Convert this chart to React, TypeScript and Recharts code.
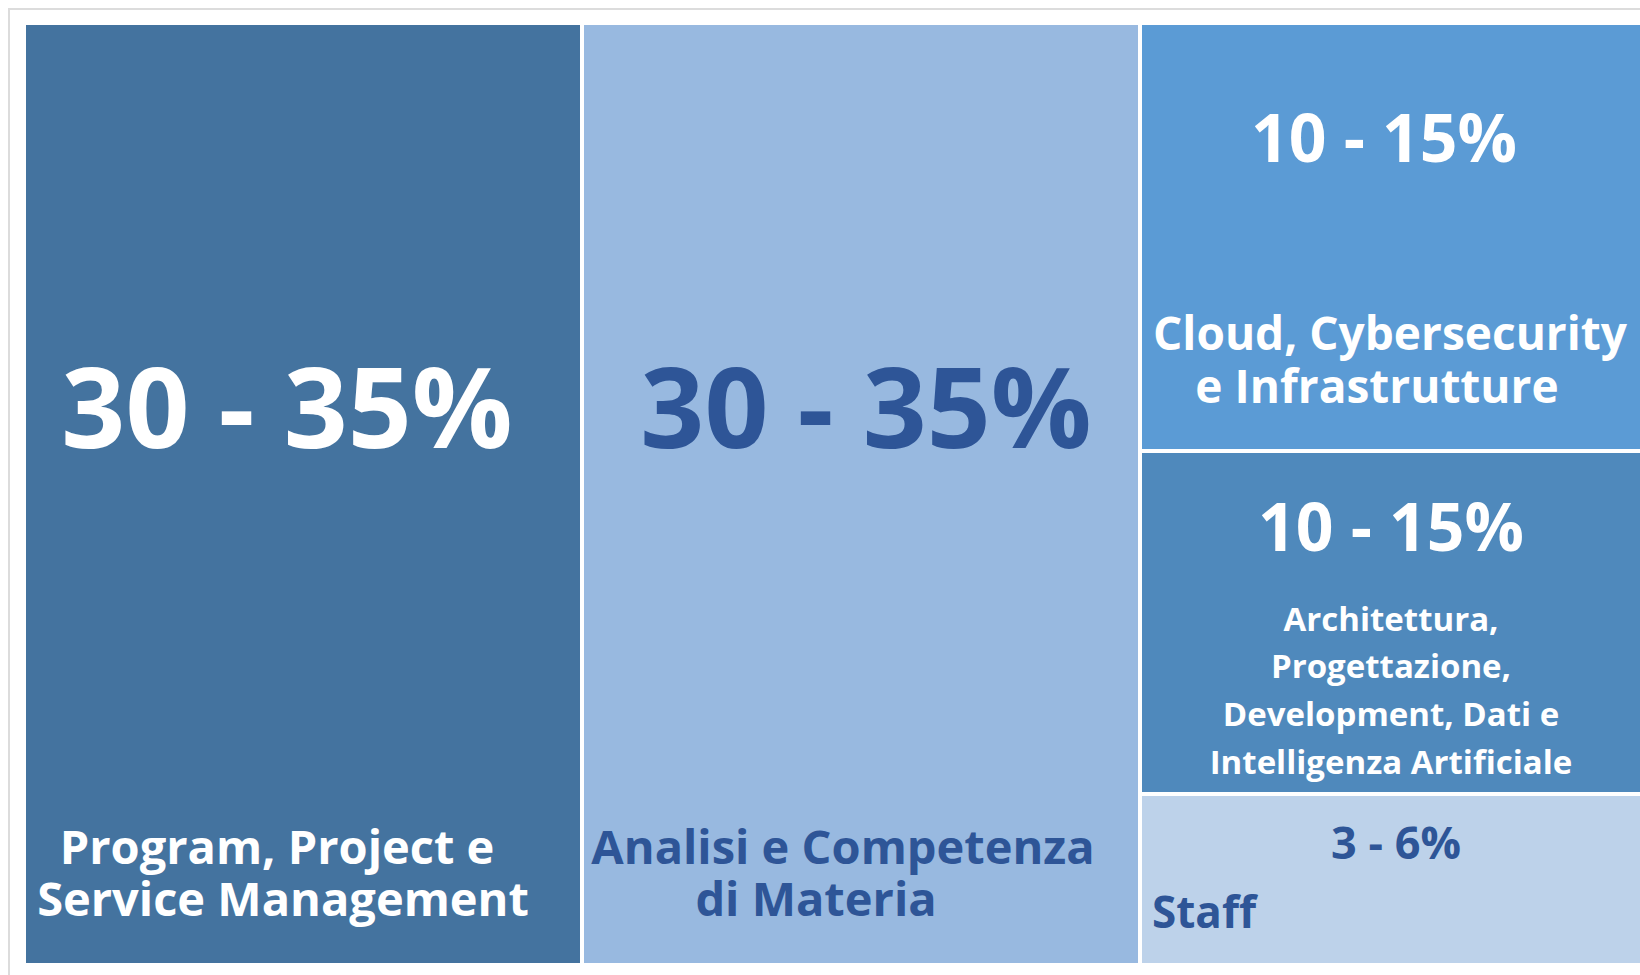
import React from 'react';
import { Treemap } from 'recharts';

// tile names, the ranges printed on them, and their measured share of the area
const categories = [
  'Program, Project e Service Management',
  'Analisi e Competenza di Materia',
  'Cloud, Cybersecurity e Infrastrutture',
  'Architettura, Progettazione, Development, Dati e Intelligenza Artificiale',
  'Staff',
];
const ranges = ['30 - 35%', '30 - 35%', '10 - 15%', '10 - 15%', '3 - 6%'];
const sizes = [34.5, 34.5, 14.1, 11.3, 5.6];
const groups = [0, 1, 2, 2, 2];
const labelLines = [
  ['Program, Project e', 'Service Management'],
  ['Analisi e Competenza', 'di Materia'],
  ['Cloud, Cybersecurity', 'e Infrastrutture'],
  ['Architettura,', 'Progettazione,', 'Development, Dati e', 'Intelligenza Artificiale'],
  ['Staff'],
];

const DARK = '#2E5597';

// per tile look: fill, text colour, where the range and the label go (relative to the tile)
const tileStyle = [
  { fill: '#44739F', color: '#fff', big: { dx: 263, dy: 425, size: 112 }, lines: { dx: [253, 259], dy: [841, 893], size: 47, anchor: 'middle' } },
  { fill: '#98B9E0', color: DARK, big: { dx: 284, dy: 425, size: 112 }, lines: { dx: [261, 234], dy: [841, 893], size: 47, anchor: 'middle' } },
  { fill: '#5B9BD5', color: '#fff', big: { dx: 244, dy: 139, size: 66 }, lines: { dx: [250, 237], dy: [327, 380], size: 46, anchor: 'middle' } },
  { fill: '#4F89BC', color: '#fff', big: { dx: 251, dy: 100, size: 66 }, lines: { dx: [251, 251, 251, 251], dy: [180, 227, 275, 323], size: 33, anchor: 'middle' } },
  { fill: '#BDD2EA', color: DARK, big: { dx: 256, dy: 65, size: 45 }, lines: { dx: [12], dy: [134], size: 44, anchor: 'start' } },
];

const leaf = (i: number) => ({ name: categories[i], size: sizes[i], idx: i });

const data: any[] = [];
groups.forEach((g, i) => {
  if (g < 2) {
    data.push(leaf(i));
  } else {
    let grp = data.find((d) => d.group === g);
    if (!grp) {
      grp = { name: 'Tecnologie', group: g, children: [] };
      data.push(grp);
    }
    grp.children.push(leaf(i));
  }
});

const Tile = (props: any) => {
  const { x, y, width, height, idx, children } = props;
  if ((children && children.length) || idx === undefined) return <g />;
  const st = tileStyle[idx];
  return (
    <g>
      <rect x={x} y={y} width={width} height={height} fill={st.fill} stroke="#fff" strokeWidth={4} />
      <text
        x={x + st.big.dx}
        y={y + st.big.dy}
        textAnchor="middle"
        fill={st.color}
        fontSize={st.big.size}
        fontWeight={700}
        fontFamily="'Open Sans', sans-serif"
      >
        {ranges[idx]}
      </text>
      <text
        textAnchor={st.lines.anchor}
        fill={st.color}
        fontSize={st.lines.size}
        fontWeight={700}
        fontFamily="'Open Sans', sans-serif"
      >
        {labelLines[idx].map((line, j) => (
          <tspan key={j} x={x + st.lines.dx[j]} y={y + st.lines.dy[j]}>
            {line}
          </tspan>
        ))}
      </text>
    </g>
  );
};

export default function App() {
  // fixed to the viewport so the body margin and scrollbars do not move or clip the tiles
  return (
    <div
      style={{
        position: 'fixed',
        left: 0,
        top: 0,
        width: 1640,
        height: 975,
        overflow: 'hidden',
        background: '#fff',
      }}
    >
      <div
        style={{
          position: 'absolute',
          left: 8,
          top: 8,
          width: 1640,
          height: 975,
          borderTop: '2px solid #dcdcdc',
          borderLeft: '2px solid #dcdcdc',
        }}
      />
      <div style={{ position: 'absolute', left: 24, top: 23, width: 1618, height: 942 }}>
        <Treemap
          width={1618}
          height={942}
          data={data}
          dataKey="size"
          aspectRatio={0.3}
          isAnimationActive={false}
          content={<Tile />}
        />
      </div>
    </div>
  );
}
